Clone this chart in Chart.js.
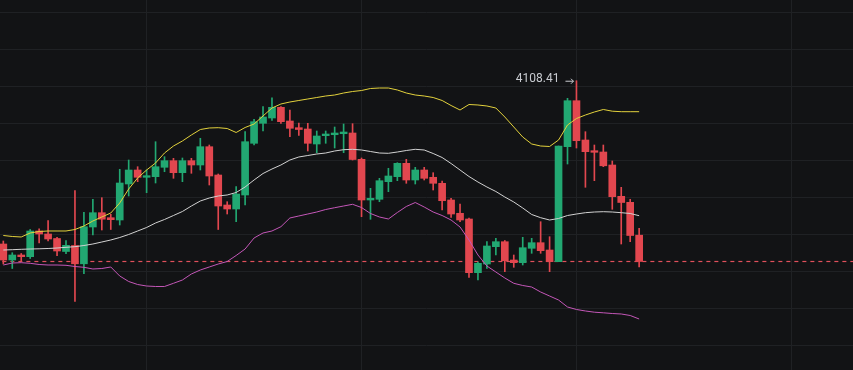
<!DOCTYPE html>
<html>
<head>
<meta charset="utf-8">
<script src="https://cdn.jsdelivr.net/npm/chart.js@4.4.1/dist/chart.umd.min.js"></script>
<style>
  html, body { margin: 0; padding: 0; background: #121315; }
  #wrap { width: 853px; height: 370px; position: relative; }
</style>
</head>
<body>
<div id="wrap"><canvas id="chart"></canvas></div>
<script>
// candles, oldest first
const OPEN = [3887.77, 3866.15, 3872.91, 3870.61, 3905.34, 3901.28, 3895.20, 3877.64, 3885.74, 3861.01,
  3910.74, 3930.07, 3923.31, 3920.20, 3968.85, 3987.77, 3977.91, 3978.72, 3991.42, 4000.34,
  3984.12, 4000.34, 3994.53, 4019.26, 3981.01, 3940.47, 3935.07, 3953.99, 4023.85, 4050.88,
  4058.04, 4072.50, 4053.99, 4044.93, 4043.18, 4022.91, 4034.12, 4035.47, 4036.82, 4037.77,
  4002.23, 3947.23, 3948.18, 3971.96, 3978.72, 3996.82, 3974.26, 3987.77, 3977.91, 3969.80,
  3947.23, 3929.26, 3921.55, 3848.99, 3860.74, 3884.12, 3890.88, 3866.15, 3862.50, 3881.96,
  3889.53, 3879.66, 3863.85, 4019.26, 4081.42, 4028.31, 4013.85, 4012.09, 3994.53, 3952.23,
  3944.12, 3899.66];
const HIGH = [3891.82, 3876.01, 3874.93, 3907.36, 3908.31, 3919.26, 3896.82, 3892.50, 3960.07, 3930.61,
  3948.18, 3950.34, 3927.91, 3988.72, 4001.28, 3992.23, 3987.77, 4026.01, 4005.74, 4003.58,
  4003.99, 4003.58, 4030.61, 4021.55, 3982.36, 3944.93, 3965.20, 4039.53, 4056.28, 4073.31,
  4085.34, 4073.31, 4068.85, 4051.28, 4050.88, 4040.47, 4040.47, 4045.88, 4049.93, 4050.34,
  4003.99, 3963.04, 3976.55, 3990.07, 3997.64, 4002.23, 3991.42, 3991.42, 3984.12, 3972.91,
  3949.53, 3941.82, 3922.91, 3863.45, 3890.88, 3895.47, 3892.50, 3872.91, 3896.82, 3895.47,
  3917.91, 3897.64, 4020.20, 4084.66, 4108.41, 4039.53, 4021.55, 4021.55, 3999.93, 3964.39,
  3948.18, 3908.99];
const LOW = [3860.74, 3854.66, 3864.80, 3868.18, 3889.12, 3891.82, 3871.96, 3874.66, 3810.07, 3847.64,
  3899.93, 3906.69, 3907.36, 3913.45, 3952.64, 3971.96, 3957.09, 3970.20, 3985.47, 3976.55,
  3971.96, 3983.31, 3987.77, 3967.50, 3907.36, 3928.31, 3917.91, 3940.47, 4021.55, 4040.47,
  4054.66, 4050.88, 4032.77, 4034.39, 4013.45, 4011.15, 4023.85, 4017.50, 4011.15, 4001.28,
  3924.66, 3921.15, 3944.93, 3958.45, 3973.31, 3969.80, 3968.85, 3974.26, 3960.74, 3933.72,
  3923.85, 3917.91, 3842.77, 3839.12, 3854.93, 3872.91, 3850.34, 3856.28, 3859.39, 3875.20,
  3875.20, 3850.34, 3863.85, 3995.88, 4017.50, 3964.39, 3973.31, 3992.23, 3934.66, 3887.77,
  3890.88, 3856.69];
const CLOSE = [3866.15, 3872.91, 3870.61, 3905.34, 3901.28, 3894.53, 3878.31, 3886.01, 3861.01, 3911.15,
  3930.07, 3921.28, 3920.61, 3970.20, 3987.77, 3977.91, 3980.07, 3992.23, 4000.34, 3984.12,
  4000.34, 3994.53, 4019.26, 3979.66, 3939.12, 3935.07, 3955.34, 4026.01, 4053.04, 4059.39,
  4072.50, 4053.04, 4044.12, 4042.50, 4023.85, 4033.72, 4036.42, 4037.77, 4039.12, 4001.96,
  3947.23, 3949.53, 3973.31, 3979.66, 3996.82, 3974.26, 3987.77, 3976.55, 3969.80, 3946.28,
  3928.31, 3920.20, 3848.99, 3861.69, 3885.07, 3890.88, 3865.20, 3862.50, 3882.77, 3889.53,
  3878.72, 3863.85, 4020.20, 4081.42, 4027.36, 4012.50, 4011.69, 3993.45, 3951.69, 3943.85,
  3899.26, 3864.12];

// bollinger bands
const BOLL_UP = [3899.26, 3897.91, 3897.23, 3902.64, 3904.66, 3905.34, 3905.34, 3905.34, 3907.36, 3912.09,
  3918.85, 3924.26, 3929.66, 3943.18, 3962.09, 3976.96, 3987.77, 3997.23, 4010.74, 4020.20,
  4026.96, 4035.07, 4042.50, 4044.53, 4044.93, 4043.85, 4038.45, 4045.20, 4049.93, 4060.74,
  4071.55, 4076.96, 4079.66, 4081.69, 4083.72, 4085.74, 4087.77, 4089.12, 4091.82, 4093.85,
  4095.20, 4097.91, 4098.58, 4098.58, 4095.88, 4091.82, 4089.12, 4087.77, 4085.74, 4081.69,
  4074.93, 4068.85, 4076.28, 4075.61, 4074.26, 4071.55, 4059.39, 4045.88, 4032.36, 4022.91,
  4020.20, 4019.53, 4028.31, 4048.58, 4057.36, 4062.09, 4066.15, 4069.53, 4067.23, 4066.55,
  4066.55, 4066.55];
const BOLL_MB = [3879.66, 3880.07, 3880.61, 3881.01, 3881.28, 3881.69, 3882.36, 3883.31, 3884.12, 3885.74,
  3887.77, 3890.47, 3893.18, 3896.55, 3900.61, 3905.34, 3910.07, 3916.15, 3920.88, 3926.28,
  3931.69, 3939.12, 3945.88, 3949.93, 3952.64, 3953.99, 3957.36, 3964.80, 3974.26, 3983.04,
  3989.12, 3994.53, 4001.28, 4005.34, 4007.36, 4009.39, 4010.74, 4013.45, 4015.20, 4015.74,
  4014.80, 4012.77, 4010.74, 4010.34, 4012.09, 4014.12, 4015.74, 4014.80, 4010.07, 4004.66,
  3996.55, 3987.77, 3978.99, 3971.55, 3964.80, 3958.72, 3951.28, 3944.53, 3936.42, 3927.64,
  3923.31, 3920.20, 3922.23, 3926.28, 3928.31, 3930.07, 3931.01, 3931.42, 3931.01, 3930.07,
  3928.99, 3926.01];
const BOLL_DN = [3859.39, 3862.09, 3862.50, 3861.69, 3860.07, 3859.39, 3859.39, 3858.99, 3857.36, 3856.28,
  3853.99, 3854.66, 3856.69, 3844.53, 3837.09, 3833.04, 3831.01, 3830.34, 3830.34, 3834.66,
  3839.12, 3847.23, 3852.64, 3856.69, 3860.74, 3864.12, 3872.23, 3881.01, 3895.88, 3902.64,
  3905.34, 3911.15, 3922.91, 3925.61, 3928.31, 3931.01, 3934.39, 3936.82, 3939.12, 3941.42,
  3937.09, 3928.99, 3924.26, 3921.55, 3930.34, 3938.45, 3943.85, 3937.77, 3931.01, 3926.28,
  3920.20, 3910.74, 3893.18, 3872.91, 3858.04, 3849.93, 3841.82, 3834.66, 3831.69, 3829.66,
  3822.91, 3817.50, 3812.09, 3802.64, 3799.26, 3797.23, 3795.61, 3794.80, 3793.85, 3793.18,
  3791.15, 3786.42];

// grid positions (labels hidden in the screenshot)
const X_GRID = [16, 40, 64, 88];
const Y_GRID = [3750, 3800, 3850, 3900, 3950, 4000, 4050, 4100, 4150, 4200];
const HIGH_LABEL = '4108.41';

const UP = '#22a872';
const DOWN = '#e2474f';
const GRID = '#1f2124';

const idx = OPEN.map((_, i) => i);
const colors = idx.map(i => (CLOSE[i] >= OPEN[i] ? UP : DOWN));
const last = CLOSE[CLOSE.length - 1];
const hiIdx = HIGH.indexOf(Math.max(...HIGH));

// "4108.41 ->" marker next to the highest wick
const highLabel = {
  id: 'highLabel',
  afterDatasetsDraw(chart) {
    const { ctx, scales: { x, y } } = chart;
    const px = x.getPixelForValue(hiIdx);
    const py = y.getPixelForValue(HIGH[hiIdx]);
    ctx.save();
    ctx.fillStyle = '#c8cbd0';
    ctx.strokeStyle = '#c8cbd0';
    ctx.font = '12px Roboto, "Noto Sans", sans-serif';
    ctx.textAlign = 'right';
    ctx.textBaseline = 'middle';
    ctx.fillText(HIGH_LABEL, px - 17, py - 1.5);
    ctx.lineWidth = 1;
    ctx.beginPath();
    ctx.moveTo(px - 11, py + 0.5);
    ctx.lineTo(px - 3, py + 0.5);
    ctx.moveTo(px - 5.5, py - 2);
    ctx.lineTo(px - 3, py + 0.5);
    ctx.lineTo(px - 5.5, py + 3);
    ctx.stroke();
    ctx.restore();
  },
};

const band = (vals, color) => ({
  type: 'line',
  data: idx.map(i => ({ x: i, y: vals[i] })),
  borderColor: color,
  borderWidth: 1,
  pointRadius: 0,
  tension: 0,
  order: 0,
});

new Chart(document.getElementById('chart'), {
  type: 'bar',
  data: {
    datasets: [
      band(BOLL_UP, '#e3d23d'),
      band(BOLL_MB, '#d2d2d2'),
      band(BOLL_DN, '#c457b8'),
      {
        label: 'body',
        data: idx.map(i => ({ x: i, y: [OPEN[i], CLOSE[i]] })),
        backgroundColor: colors,
        barThickness: 7,
        minBarLength: 1.5,
        grouped: false,
        order: 1,
      },
      {
        label: 'wick',
        data: idx.map(i => ({ x: i, y: [LOW[i], HIGH[i]] })),
        backgroundColor: colors,
        barThickness: 1,
        grouped: false,
        order: 2,
      },
      {
        type: 'line',
        label: 'last',
        data: [{ x: -1, y: last }, { x: 96, y: last }],
        borderColor: '#e0505c',
        borderWidth: 1.2,
        borderDash: [4, 4],
        pointRadius: 0,
        order: 3,
      },
    ],
  },
  options: {
    animation: false,
    responsive: true,
    maintainAspectRatio: false,
    layout: { padding: 0 },
    plugins: {
      legend: { display: false },
      tooltip: { enabled: false },
    },
    scales: {
      x: {
        type: 'linear',
        min: -0.37,
        max: 94.88,
        offset: false,
        grid: { color: GRID, offset: false, drawTicks: false },
        border: { display: false },
        ticks: { display: false },
        afterBuildTicks: s => { s.ticks = X_GRID.map(v => ({ value: v })); },
      },
      y: {
        type: 'linear',
        min: 3717.5,
        max: 4217.5,
        grid: { color: GRID, drawTicks: false },
        border: { display: false },
        ticks: { display: false },
        afterBuildTicks: s => { s.ticks = Y_GRID.map(v => ({ value: v })); },
      },
    },
  },
  plugins: [highLabel],
});
</script>
</body>
</html>
